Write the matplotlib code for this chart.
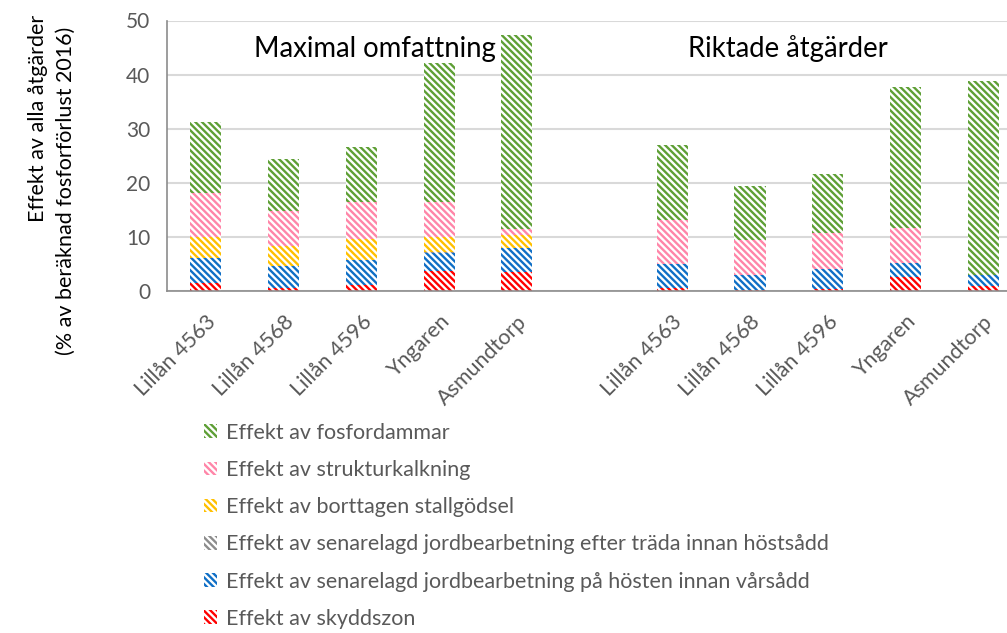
import matplotlib
matplotlib.use("Agg")
import matplotlib.pyplot as plt
import numpy as np

plt.rcParams['font.family'] = ['Lato', 'DejaVu Sans']
plt.rcParams['hatch.linewidth'] = 1.7

sites = ["Lillån 4563", "Lillån 4568", "Lillån 4596", "Yngaren", "Asmundtorp"]
groups = ["Maximal omfattning", "Riktade åtgärder"]

series_names = [
    "Effekt av skyddszon",
    "Effekt av senarelagd jordbearbetning på hösten innan vårsådd",
    "Effekt av senarelagd jordbearbetning efter träda innan höstsådd",
    "Effekt av borttagen stallgödsel",
    "Effekt av strukturkalkning",
    "Effekt av fosfordammar",
]
colors = ["#FF0000", "#0F6FC6", "#8C8C8C", "#FFC000", "#FF85A8", "#5E9F35"]

# Maximal omfattning
max_skyddszon = [1.5, 0.6, 1.2, 3.7, 3.5]
max_var = [4.6, 4.1, 4.6, 3.4, 4.4]
max_trada = [0.0, 0.0, 0.0, 0.2, 0.0]
max_stallgodsel = [3.8, 3.7, 3.8, 2.6, 2.5]
max_struktur = [8.2, 6.3, 6.8, 6.6, 1.1]
max_dammar = [13.1, 9.7, 10.3, 25.8, 35.8]

# Riktade åtgärder
rik_skyddszon = [0.6, 0.2, 0.3, 2.5, 0.9]
rik_var = [4.4, 2.8, 3.7, 2.6, 2.1]
rik_trada = [0.0, 0.0, 0.0, 0.0, 0.0]
rik_stallgodsel = [0.0, 0.0, 0.0, 0.0, 0.0]
rik_struktur = [8.1, 6.4, 6.7, 6.6, 0.0]
rik_dammar = [13.8, 10.0, 11.0, 26.0, 35.8]

yticks = [0, 10, 20, 30, 40, 50]

max_data = [max_skyddszon, max_var, max_trada, max_stallgodsel, max_struktur, max_dammar]
rik_data = [rik_skyddszon, rik_var, rik_trada, rik_stallgodsel, rik_struktur, rik_dammar]

fig = plt.figure(figsize=(10.07, 6.33), dpi=100)
ax = fig.add_axes([167/1007, 1 - 291/633, (1022-167)/1007, (291-20.5)/633])

n = len(sites)
x_max = np.arange(n)
x_rik = np.arange(n) + n + 1
xs = np.concatenate([x_max, x_rik])
labels = sites + sites

handles = []
bottom = np.zeros(2 * n)
for name, col, mv, rv in zip(series_names, colors, max_data, rik_data):
    vals = np.array(mv + rv, dtype=float)
    b = ax.bar(xs, vals, width=0.4, bottom=bottom, facecolor="white",
               edgecolor=col, hatch="\\\\\\\\\\", linewidth=0, label=name)
    handles.append(b)
    bottom = bottom + vals

ax.set_xlim(-0.5, 2 * n + 0.5)
ax.set_ylim(0, 50)
ax.set_yticks(yticks)
ax.set_yticklabels([str(t) for t in yticks])
ax.yaxis.grid(True, color="#D9D9D9", linewidth=1.5)
ax.set_axisbelow(True)
for s in ["top", "right"]:
    ax.spines[s].set_visible(False)
ax.spines["left"].set_color("#8C8C8C")
ax.spines["bottom"].set_color("#8C8C8C")
ax.spines["left"].set_linewidth(1.2)
ax.spines["bottom"].set_linewidth(1.2)
ax.tick_params(axis="both", length=0, labelsize=15, labelcolor="#595959")
ax.tick_params(axis="y", pad=12)
ax.set_xticks(xs)
ax.set_xticklabels(labels, rotation=45, ha="right", rotation_mode="anchor")
ax.tick_params(axis="x", pad=15, labelsize=15.5)

ax.text(2.18, 44.8, groups[0], ha="center", va="center", fontsize=19.8, color="black",
        bbox=dict(facecolor="white", edgecolor="none", pad=1))
ax.text(7.49, 44.8, groups[1], ha="center", va="center", fontsize=19.8, color="black",
        bbox=dict(facecolor="white", edgecolor="none", pad=1))

fig.text(38/1007, 1 - 118/633, "Effekt av alla åtgärder", rotation=90,
         ha="center", va="center", fontsize=15.5, color="black")
fig.text(66/1007, 1 - 191/633, "(% av beräknad fosforförlust 2016)", rotation=90,
         ha="center", va="center", fontsize=15.5, color="black")

leg = fig.legend(handles[::-1], series_names[::-1], loc="upper left",
                 bbox_to_anchor=(193/1007, 1 - 412/633), frameon=False,
                 fontsize=15.5, labelcolor="#595959", handlelength=0.6,
                 handleheight=0.6, handletextpad=0.45, labelspacing=0.8,
                 borderpad=0)

fig.savefig("out.png", dpi=100)
